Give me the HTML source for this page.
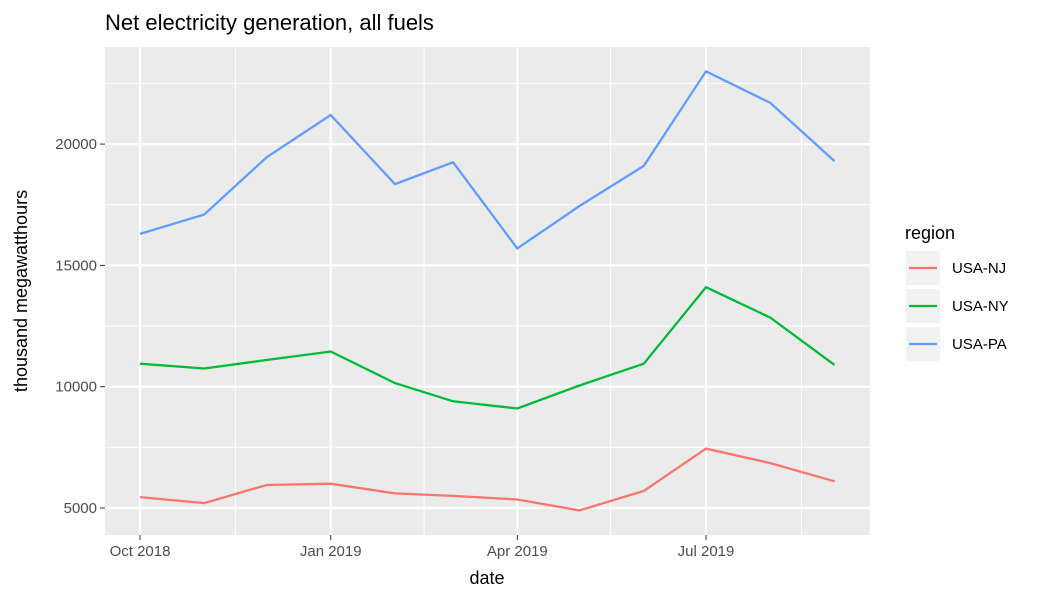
<!DOCTYPE html>
<html><head><meta charset="utf-8"><style>
body{margin:0;background:#fff;}
text{font-family:"Liberation Sans",Arial,sans-serif;}
</style></head><body>
<svg width="1050" height="600" xmlns="http://www.w3.org/2000/svg">
<text x="105" y="30" font-size="22" fill="#000">Net electricity generation, all fuels</text>
<rect x="105" y="47" width="765" height="488" fill="#ebebeb"/>
<g id="grid"></g>
<g id="series"></g>
<g id="axes"></g>
<text x="487" y="584" font-size="18" text-anchor="middle">date</text>
<text transform="translate(27,291) rotate(-90)" font-size="18" text-anchor="middle">thousand megawatthours</text>
<g>
<text x="905" y="239" font-size="18">region</text>
<g id="legend"></g>
</g>
</svg>
<script>
const months=["2018-10-01","2018-11-01","2018-12-01","2019-01-01","2019-02-01","2019-03-01","2019-04-01","2019-05-01","2019-06-01","2019-07-01","2019-08-01","2019-09-01"];
const seriesNames=["USA-NJ","USA-NY","USA-PA"];
const nj=[5450,5200,5950,6000,5600,5500,5350,4900,5700,7450,6850,6100];
const ny=[10950,10750,11100,11450,10150,9400,9100,10050,10950,14100,12850,10900];
const pa=[16300,17100,19450,21200,18350,19250,15700,17450,19100,23000,21700,19300];
const yTicks=[5000,10000,15000,20000];
const yMinor=[7500,12500,17500,22500];
const xTicks=["2018-10-01","2019-01-01","2019-04-01","2019-07-01"];
const xTickLabels=["Oct 2018","Jan 2019","Apr 2019","Jul 2019"];
const xMinor=["2018-11-16","2019-02-15","2019-05-16","2019-08-16"];
const colors=["#f8766d","#00ba38","#619cff"];
const NS="http://www.w3.org/2000/svg";
const t0=Date.parse("2018-10-01"),pxPerDay=(706-140)/273;
function x(d){return 140+(Date.parse(d)-t0)/86400000*pxPerDay;}
function y(v){return 508-(v-5000)*121.3/5000;}
function mk(tag,attrs,parent){const e=document.createElementNS(NS,tag);for(const k in attrs)e.setAttribute(k,attrs[k]);document.getElementById(parent).appendChild(e);return e;}
yMinor.forEach(v=>{const e=mk("line",{x1:105,x2:870,y1:y(v),y2:y(v),stroke:"#fff","stroke-width":1},"grid");

});
xMinor.forEach(d=>{const e=mk("line",{x1:x(d),x2:x(d),y1:47,y2:535,stroke:"#fff","stroke-width":1},"grid");

});
yTicks.forEach(v=>{const e=mk("line",{x1:105,x2:870,y1:y(v),y2:y(v),stroke:"#fff","stroke-width":2.2},"grid");


const tk=mk("line",{x1:100,x2:105,y1:y(v),y2:y(v),stroke:"#333","stroke-width":1},"axes");


const t=mk("text",{x:97,y:y(v)+5,"font-size":15,"text-anchor":"end",fill:"#4d4d4d"},"axes");t.textContent=v;

});
xTicks.forEach((d,i)=>{const e=mk("line",{x1:x(d),x2:x(d),y1:47,y2:535,stroke:"#fff","stroke-width":2.2},"grid");


const tk=mk("line",{x1:x(d),x2:x(d),y1:535,y2:540,stroke:"#333","stroke-width":1},"axes");


const t=mk("text",{x:x(d),y:556,"font-size":15,"text-anchor":"middle",fill:"#4d4d4d"},"axes");t.textContent=xTickLabels[i];

});
[nj,ny,pa].forEach((vals,si)=>{const pts=vals.map((v,i)=>x(months[i]).toFixed(1)+","+y(v).toFixed(1)).join(" ");
const l=mk("polyline",{points:pts,fill:"none",stroke:colors[si],"stroke-width":2.3},"series");


const cy=268+si*38;
const bg=mk("rect",{x:906,y:cy-17,width:34,height:34,fill:"#f2f2f2"},"legend");


const ll=mk("line",{x1:909,x2:937,y1:cy,y2:cy,stroke:colors[si],"stroke-width":2.3},"legend");


const t=mk("text",{x:952,y:cy+5,"font-size":15,fill:"#000"},"legend");t.textContent=seriesNames[si];

});
</script>
</body></html>
